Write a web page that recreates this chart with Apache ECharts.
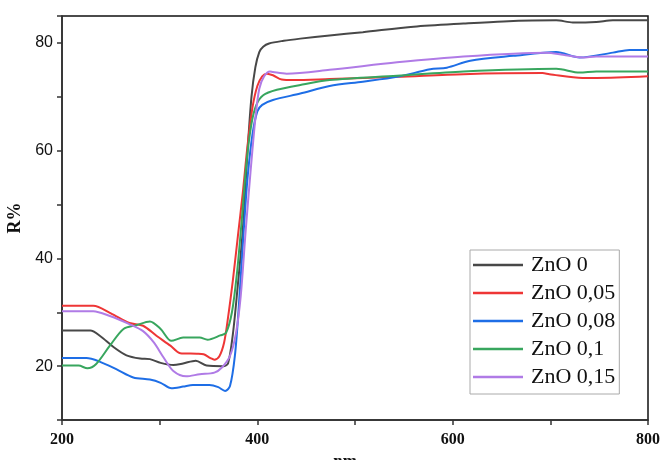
<!DOCTYPE html>
<html>
<head>
<meta charset="utf-8">
<script src="https://cdn.jsdelivr.net/npm/echarts@6/dist/echarts.min.js"></script>
<style>
  html, body { margin: 0; padding: 0; background: #fff; }
  #chart { width: 661px; height: 460px; }
</style>
</head>
<body>
<div id="chart"></div>
<script>
// wavelength (nm) / reflectance (%)
const names = ["ZnO 0", "ZnO 0,05", "ZnO 0,08", "ZnO 0,1", "ZnO 0,15"];
const colors = ["#484848", "#ee3636", "#1e6ee6", "#38a65e", "#b07be6"];

const nm0 = [200, 229, 239, 253, 266, 280, 290, 301, 314, 324, 337, 348, 365, 370, 375, 380, 385, 390, 394, 398, 402, 406, 412, 427, 444, 474, 508, 560, 611, 652, 706, 723, 747, 764, 800];
const r0 = [26.6, 26.6, 25.6, 23.5, 22.0, 21.4, 21.3, 20.6, 20.2, 20.5, 21.0, 20.1, 20.0, 20.5, 26.0, 35.0, 45.0, 60.0, 70.0, 75.5, 78.3, 79.3, 79.9, 80.4, 80.8, 81.4, 82.0, 83.0, 83.6, 84.0, 84.2, 83.8, 83.9, 84.2, 84.2];

const nm05 = [200, 232, 250, 269, 283, 297, 311, 321, 338, 345, 352, 356, 361, 366, 370, 375, 380, 385, 390, 395, 400, 405, 410, 416, 425, 437, 474, 543, 611, 692, 699, 733, 747, 800];
const r05 = [31.2, 31.2, 29.8, 28.0, 27.5, 25.6, 23.8, 22.4, 22.3, 22.2, 21.5, 21.2, 21.8, 24.4, 29.0, 36.0, 44.0, 52.0, 61.0, 68.0, 72.0, 73.8, 74.3, 74.0, 73.2, 73.1, 73.3, 73.7, 74.2, 74.4, 74.2, 73.5, 73.5, 73.8];

const nm08 = [200, 225, 239, 256, 273, 290, 301, 312, 324, 334, 351, 360, 367, 372, 377, 381, 386, 390, 395, 400, 405, 416, 444, 474, 508, 543, 577, 594, 618, 662, 706, 730, 764, 781, 800];
const r08 = [21.5, 21.5, 20.8, 19.4, 17.9, 17.5, 16.9, 15.9, 16.2, 16.5, 16.5, 16.1, 15.4, 16.3, 21.9, 31.0, 45.0, 55.0, 63.0, 67.3, 68.5, 69.4, 70.6, 72.0, 72.8, 73.7, 75.1, 75.4, 76.7, 77.6, 78.3, 77.3, 78.2, 78.7, 78.7];

const nm1 = [200, 217, 226, 235, 249, 263, 276, 290, 301, 312, 324, 341, 349, 362, 368, 374, 379, 384, 389, 394, 399, 406, 420, 444, 474, 543, 611, 706, 730, 747, 800];
const r1 = [20.1, 20.1, 19.6, 20.4, 23.8, 26.9, 27.6, 28.3, 26.9, 24.7, 25.3, 25.3, 24.9, 25.7, 26.2, 30.0, 37.0, 47.0, 58.0, 65.0, 68.5, 70.3, 71.3, 72.2, 73.1, 73.9, 74.7, 75.2, 74.5, 74.7, 74.7];

const nm15 = [200, 232, 249, 269, 283, 294, 304, 314, 327, 341, 356, 364, 372, 378, 383, 388, 393, 398, 402, 407, 413, 416, 430, 474, 543, 611, 696, 713, 733, 747, 800];
const r15 = [30.2, 30.2, 29.3, 27.8, 26.5, 24.4, 21.6, 19.1, 18.1, 18.5, 18.8, 19.8, 21.9, 26.0, 33.0, 45.0, 56.0, 66.0, 71.5, 73.8, 74.7, 74.6, 74.3, 75.0, 76.4, 77.5, 78.2, 77.8, 77.3, 77.5, 77.5];

const xs = [nm0, nm05, nm08, nm1, nm15];
const ys = [r0, r05, r08, r1, r15];

const chart = echarts.init(document.getElementById("chart"));

const series = names.map((name, i) => ({
  name: name,
  type: "line",
  data: xs[i].map((x, k) => [x, ys[i][k]]),
  symbol: "none",
  smooth: 0.3,
  lineStyle: { color: colors[i], width: 2 },
  itemStyle: { color: colors[i] },
}));

chart.setOption({
  animation: false,
  backgroundColor: "#fff",
  grid: {
    left: 62,
    right: 13,
    top: 16,
    bottom: 40,
    outerBoundsMode: "none",
    show: true,
    borderColor: "#111",
    borderWidth: 1.5,
  },
  legend: {
    orient: "vertical",
    left: 470,
    top: 250,
    padding: [3, 4, 5, 3],
    icon: "rect",
    itemWidth: 50,
    itemHeight: 2.5,
    itemGap: 4,
    backgroundColor: "#fff",
    borderColor: "#aaa",
    borderWidth: 1,
    borderRadius: 0,
    textStyle: {
      fontFamily: "Liberation Serif",
      fontSize: 22,
      lineHeight: 24,
      color: "#111",
      padding: [0, 0, 0, 3],
    },
    data: names,
  },
  xAxis: {
    type: "value",
    min: 200,
    max: 800,
    interval: 100,
    name: "nm",
    nameLocation: "middle",
    nameGap: 29,
    nameTextStyle: {
      fontFamily: "Liberation Serif",
      fontWeight: "bold",
      fontSize: 17,
      color: "#111",
      padding: [0, 20, 0, 0],
    },
    axisLine: { lineStyle: { color: "#333", width: 1.5 } },
    axisTick: { show: true, inside: false, length: 5, lineStyle: { color: "#333", width: 1.5 } },
    axisLabel: {
      fontFamily: "Liberation Serif",
      fontWeight: "bold",
      fontSize: 16,
      color: "#111",
      margin: 12,
      formatter: (v) => (v % 200 === 0 ? v : ""),
    },
    splitLine: { show: false },
  },
  yAxis: {
    type: "value",
    min: 10,
    max: 85,
    interval: 10,
    name: "R%",
    nameLocation: "middle",
    nameGap: 33,
    nameRotate: 90,
    nameTextStyle: {
      fontFamily: "Liberation Serif",
      fontWeight: "bold",
      fontSize: 18,
      color: "#111",
    },
    axisLine: { show: true, lineStyle: { color: "#333", width: 1.5 } },
    axisTick: { show: true, inside: false, length: 5, lineStyle: { color: "#333", width: 1.5 } },
    axisLabel: {
      fontFamily: "Liberation Sans",
      fontSize: 16,
      color: "#111",
      margin: 9,
      formatter: (v) => (v % 20 === 0 ? v : ""),
    },
    splitLine: { show: false },
  },
  series: series,
});
</script>
</body>
</html>
